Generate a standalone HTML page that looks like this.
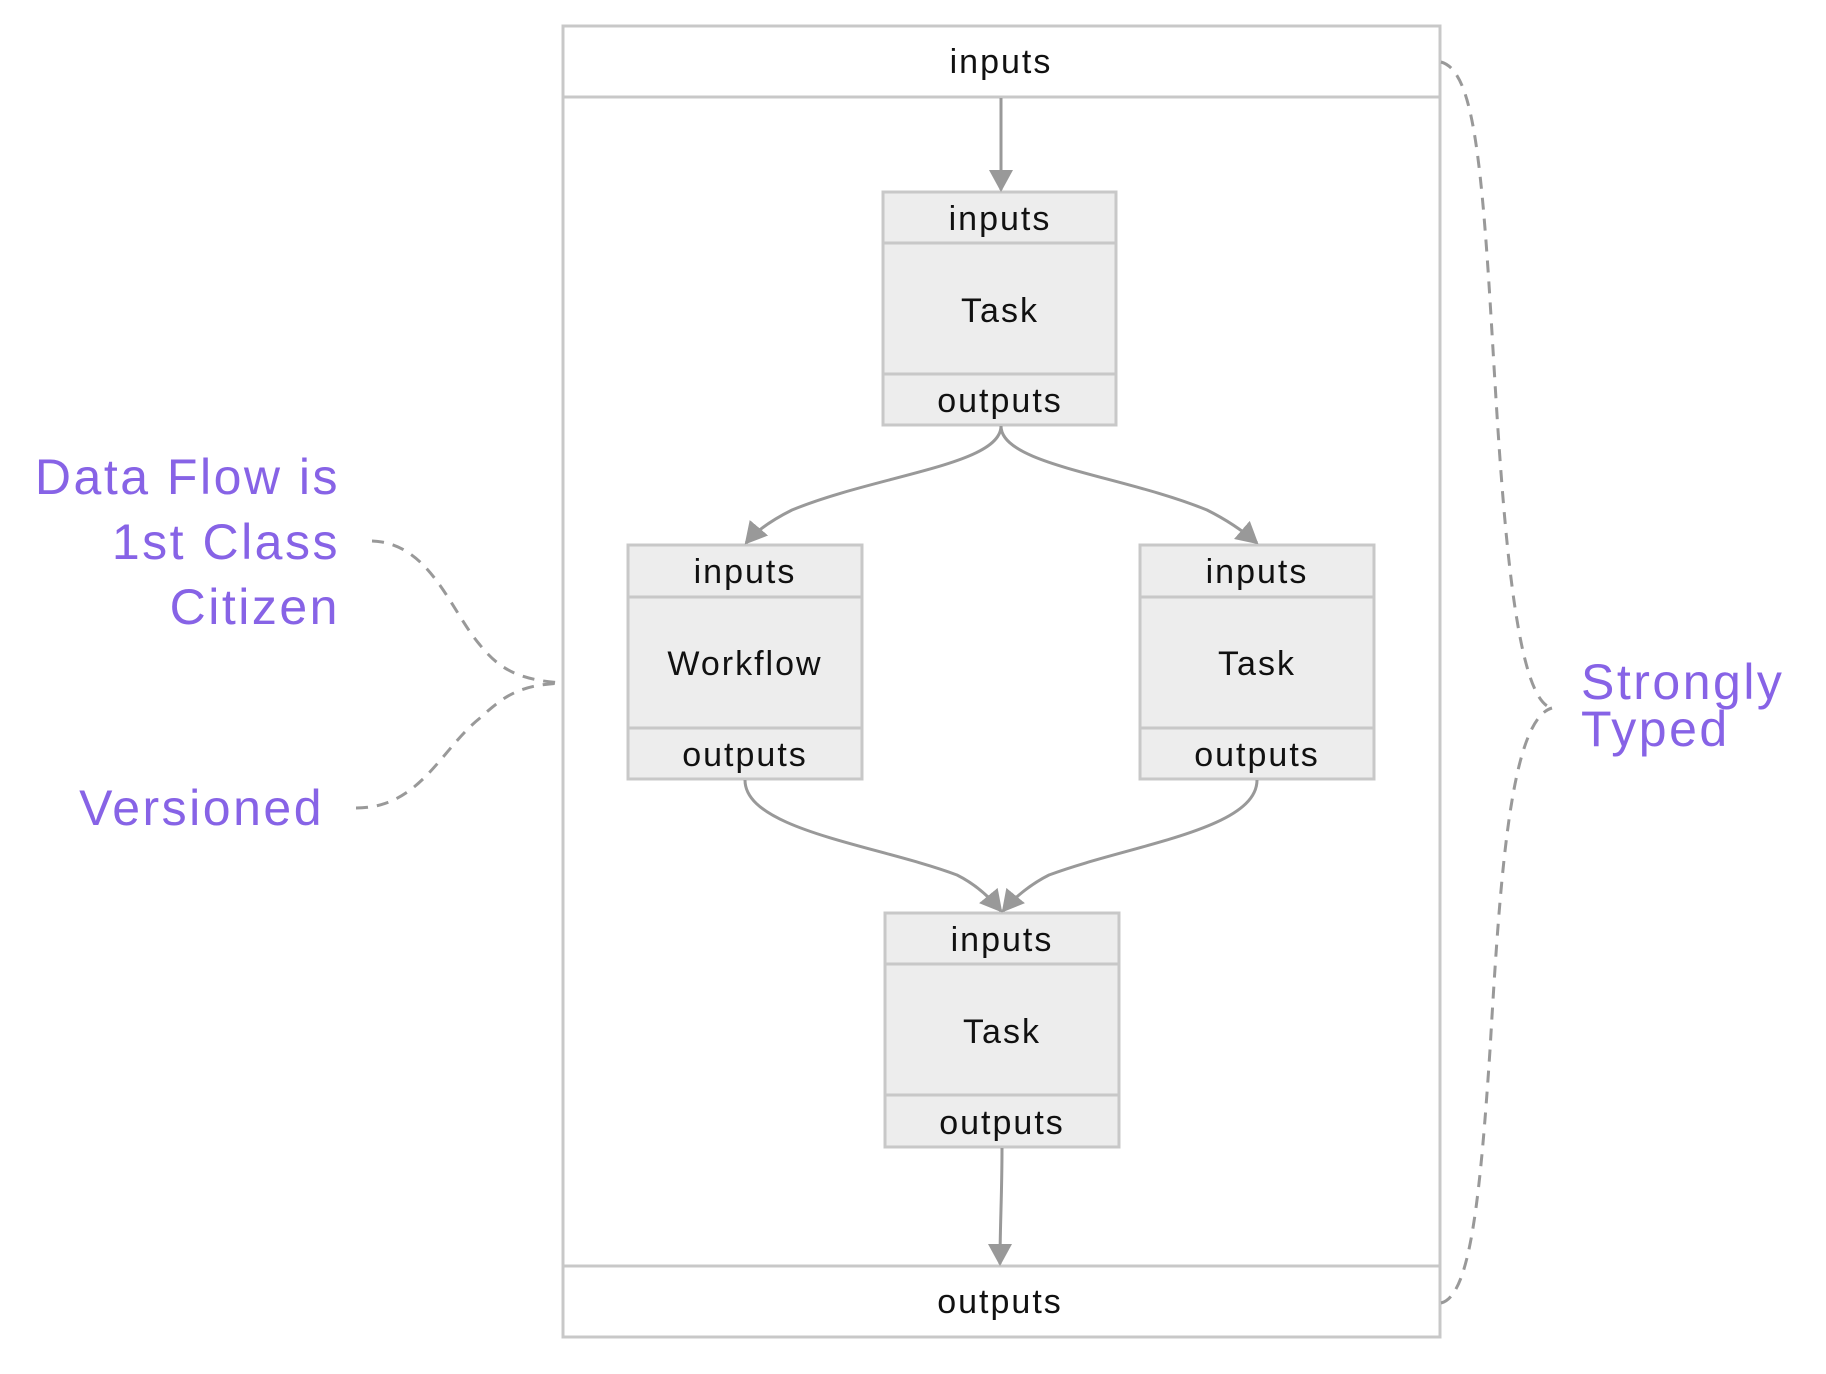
<!DOCTYPE html>
<html><head><meta charset="utf-8"><style>
html,body{margin:0;padding:0;background:#fff;}
svg{display:block;}
.t{font-family:"Liberation Sans",sans-serif;font-size:34px;letter-spacing:2px;fill:#111;text-anchor:middle;}
.p{font-family:"Liberation Sans",sans-serif;font-size:50px;letter-spacing:2.5px;fill:#8763e6;}
.b{fill:#ededed;stroke:#c8c8c8;stroke-width:3;}
.e{fill:none;stroke:#999;stroke-width:3;}
.d{fill:none;stroke:#999;stroke-width:3;stroke-dasharray:12 9;}
</style></head><body>
<svg width="1826" height="1374" viewBox="0 0 1826 1374" xmlns="http://www.w3.org/2000/svg">
<defs><marker id="A" markerWidth="22" markerHeight="24" refX="20" refY="12" orient="auto" markerUnits="userSpaceOnUse"><path d="M0,0 L22,12 L0,24 z" fill="#999"/></marker></defs>
<g transform="translate(-3,0)">
<rect x="566" y="26" width="877" height="1311" fill="#fff" stroke="#c8c8c8" stroke-width="3"/>
<line x1="566" y1="97" x2="1443" y2="97" stroke="#c8c8c8" stroke-width="3"/>
<line x1="566" y1="1266" x2="1443" y2="1266" stroke="#c8c8c8" stroke-width="3"/>
<text class="t" x="1004" y="73">inputs</text>
<text class="t" x="1003" y="1313">outputs</text>

<g>
<rect class="b" x="886" y="192" width="233" height="233"/>
<line x1="886" y1="243" x2="1119" y2="243" stroke="#c8c8c8" stroke-width="3"/>
<line x1="886" y1="374" x2="1119" y2="374" stroke="#c8c8c8" stroke-width="3"/>
<text class="t" x="1003" y="230">inputs</text><text class="t" x="1003" y="322">Task</text><text class="t" x="1003" y="412">outputs</text>
</g>
<g>
<rect class="b" x="631" y="545" width="234" height="234"/>
<line x1="631" y1="597" x2="865" y2="597" stroke="#c8c8c8" stroke-width="3"/>
<line x1="631" y1="728" x2="865" y2="728" stroke="#c8c8c8" stroke-width="3"/>
<text class="t" x="748" y="583">inputs</text><text class="t" x="748" y="675">Workflow</text><text class="t" x="748" y="766">outputs</text>
</g>
<g>
<rect class="b" x="1143" y="545" width="234" height="234"/>
<line x1="1143" y1="597" x2="1377" y2="597" stroke="#c8c8c8" stroke-width="3"/>
<line x1="1143" y1="728" x2="1377" y2="728" stroke="#c8c8c8" stroke-width="3"/>
<text class="t" x="1260" y="583">inputs</text><text class="t" x="1260" y="675">Task</text><text class="t" x="1260" y="766">outputs</text>
</g>
<g>
<rect class="b" x="888" y="913" width="234" height="234"/>
<line x1="888" y1="964" x2="1122" y2="964" stroke="#c8c8c8" stroke-width="3"/>
<line x1="888" y1="1095" x2="1122" y2="1095" stroke="#c8c8c8" stroke-width="3"/>
<text class="t" x="1005" y="951">inputs</text><text class="t" x="1005" y="1043">Task</text><text class="t" x="1005" y="1134">outputs</text>
</g>

<path class="e" d="M1004,98 L1004,190" marker-end="url(#A)"/>
<path class="e" d="M1004,426 C1004,465 880,475 795,510 C775,520 760,530 749,543" marker-end="url(#A)"/>
<path class="e" d="M1004,426 C1004,465 1125,475 1210,510 C1230,520 1245,530 1260,543" marker-end="url(#A)"/>
<path class="e" d="M748,780 C748,830 880,845 960,875 C980,885 995,900 1004,911" marker-end="url(#A)"/>
<path class="e" d="M1260,780 C1260,830 1132,845 1052,875 C1032,885 1015,900 1006,911" marker-end="url(#A)"/>
<path class="e" d="M1005,1148 C1005,1195 1003,1225 1003,1264" marker-end="url(#A)"/>
</g>

<path class="d" d="M372,541 C430,543 450,610 480,645 C500,670 520,680 562,683"/>
<path class="d" d="M356,808 C420,808 440,750 480,718 C505,695 520,685 562,683"/>
<path class="d" d="M1441,62 C1470,70 1480,140 1490,300 C1500,460 1510,700 1552,708"/>
<path class="d" d="M1441,1303 C1470,1296 1480,1200 1490,1050 C1500,880 1510,720 1552,708"/>

<text class="p" x="340" y="494" text-anchor="end">Data Flow is</text>
<text class="p" x="340" y="559" text-anchor="end">1st Class</text>
<text class="p" x="340" y="624" text-anchor="end">Citizen</text>
<text class="p" x="324" y="825" text-anchor="end">Versioned</text>
<text class="p" x="1581" y="699">Strongly</text>
<text class="p" x="1581" y="746">Typed</text>
</svg>
</body></html>
